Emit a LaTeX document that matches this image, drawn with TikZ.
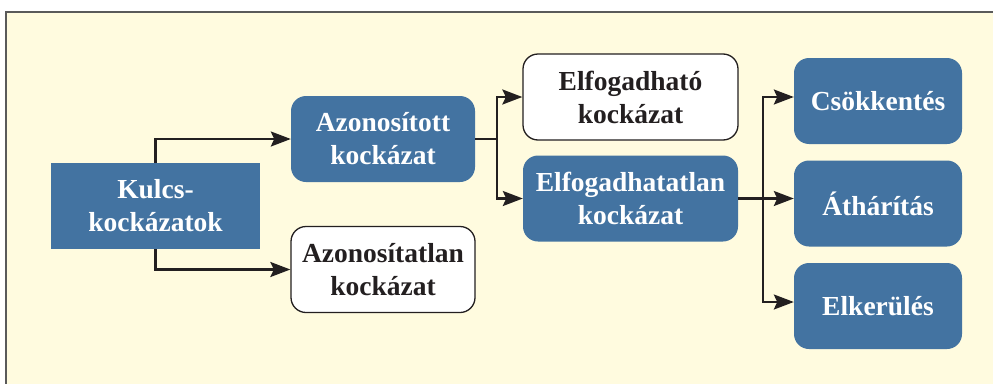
\documentclass[tikz,border=0pt]{standalone}
\usepackage{fontspec}
\setmainfont{Liberation Serif}
\usetikzlibrary{arrows.meta}
\definecolor{boxblue}{RGB}{67,115,161}
\definecolor{paper}{RGB}{255,251,223}
\definecolor{frameline}{RGB}{90,90,90}
\definecolor{ink}{RGB}{35,31,32}
\tikzset{
  box/.style={minimum height=86pt, align=center, inner sep=0pt,
    font=\fontsize{27.5}{33}\selectfont\bfseries},
  bluebox/.style={box, fill=boxblue, text=white, rounded corners=15pt},
  whitebox/.style={box, fill=white, draw=ink, line width=1.3pt, text=ink, rounded corners=15pt},
  squarebox/.style={box, fill=boxblue, text=white},
  conn/.style={draw=ink, line width=2.4pt},
  arr/.style={conn, -{Stealth[length=20pt,width=15pt,inset=3.5pt]}},
}
\begin{document}
\begin{tikzpicture}[x=1pt,y=-1pt]
  \useasboundingbox (0,0) rectangle (993,383);
  % framed background panel, running off the right and bottom edges
  \draw[fill=paper, draw=frameline, line width=1.5pt] (6,12) rectangle (1010,400);

  % nodes
  \node[squarebox, minimum width=209pt] (kulcs) at (155.5,206) {Kulcs-\\kockázatok};
  \node[bluebox, minimum width=184pt] (azon) at (383,139) {Azonosított\\kockázat};
  \node[whitebox, minimum width=184pt] (azonatlan) at (383,269.5) {Azonosítatlan\\kockázat};
  \node[whitebox, minimum width=215pt] (elfog) at (630.5,97) {Elfogadható\\kockázat};
  \node[bluebox, minimum width=215pt] (elfogatlan) at (630.5,198.5) {Elfogadhatatlan\\kockázat};
  \node[bluebox, minimum width=168pt] (csok) at (878,101) {Csökkentés};
  \node[bluebox, minimum width=168pt] (athar) at (878,203.5) {Áthárítás};
  \node[bluebox, minimum width=168pt] (elker) at (878,306) {Elkerülés};

  % connectors from the key risks
  \draw[arr] (kulcs.north) |- (azon.west);
  \draw[arr] (kulcs.south) |- (azonatlan.west);

  % identified risk splits into acceptable / unacceptable
  \coordinate (split) at (497,139);
  \draw[conn] (azon.east) -- (split);
  \draw[arr] (split) |- (elfog.west);
  \draw[arr] (split) |- (elfogatlan.west);

  % unacceptable risk leads to the three treatments
  \coordinate (bus) at (763,198.5);
  \draw[arr] (elfogatlan.east) -- (elfogatlan.east -| athar.west);
  \draw[arr] (bus) |- ([yshift=4pt]csok.west);
  \draw[arr] (bus) |- ([yshift=4pt]elker.west);
\end{tikzpicture}
\end{document}
